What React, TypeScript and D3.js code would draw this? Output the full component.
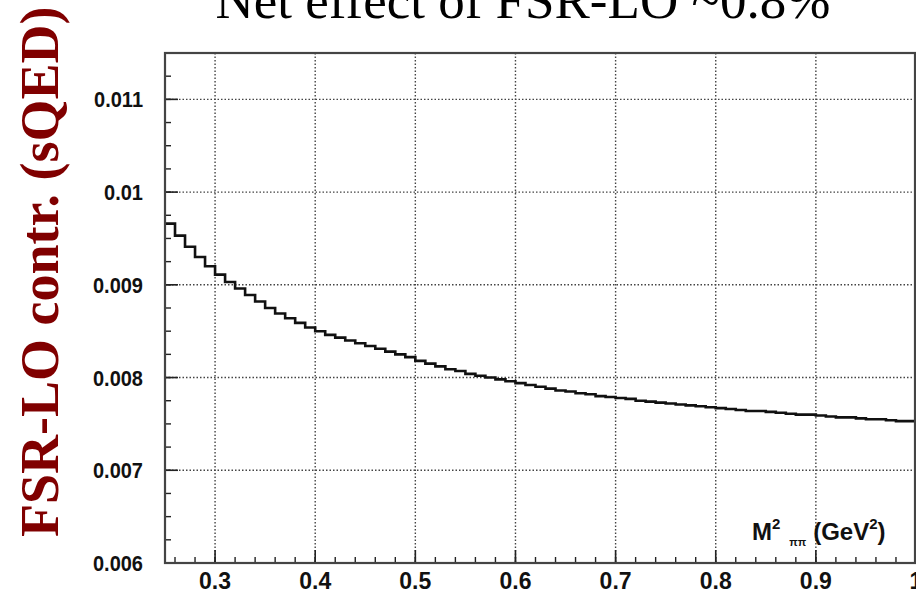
import React from "react";
import * as d3 from "d3";

const binStart = 0.25;
const binWidth = 0.01;
const binValues = [
  0.00966, 0.00953, 0.00941, 0.0093, 0.0092, 0.00911, 0.00903, 0.00896, 0.00889, 0.00882,
  0.00875, 0.00869, 0.00864, 0.00859, 0.00854, 0.0085, 0.00846, 0.00843, 0.0084, 0.00837,
  0.00834, 0.00831, 0.00828, 0.00825, 0.00822, 0.00818, 0.00815, 0.00812, 0.00809, 0.00807,
  0.00804, 0.00802, 0.008, 0.00798, 0.00796, 0.00794, 0.00792, 0.0079, 0.00788, 0.00786,
  0.00785, 0.00783, 0.00782, 0.0078, 0.00779, 0.00778, 0.00777, 0.00775, 0.00774, 0.00773,
  0.00772, 0.00771, 0.0077, 0.00769, 0.00768, 0.00767, 0.00766, 0.00765, 0.00764, 0.00764,
  0.00763, 0.00762, 0.00761, 0.0076, 0.0076, 0.00759, 0.00758, 0.00757, 0.00757, 0.00756,
  0.00755, 0.00755, 0.00754, 0.00753, 0.00753,
];
const xTickValues = [0.3, 0.4, 0.5, 0.6, 0.7, 0.8, 0.9, 1.0];
const xTickLabels = ["0.3", "0.4", "0.5", "0.6", "0.7", "0.8", "0.9", "1"];
const yTickValues = [0.006, 0.007, 0.008, 0.009, 0.01, 0.011];
const yTickLabels = ["0.006", "0.007", "0.008", "0.009", "0.01", "0.011"];
const titleText = "Net effect of FSR-LO ~0.8%";
const yTitleText = "FSR-LO contr. (sQED)";

const W = 916;
const H = 593;
const L = 165, R = 916, T = 53, B = 563;

export default function App() {
  const x = d3.scaleLinear().domain([0.25, 1.0]).range([L, R]);
  const y = d3.scaleLinear().domain([0.006, 0.0115]).range([B, T]);

  const pts: [number, number][] = binValues.map((v, i) => [binStart + i * binWidth, v]);
  pts.push([binStart + binValues.length * binWidth, binValues[binValues.length - 1]]);
  const line = d3
    .line<[number, number]>()
    .x((d) => x(d[0]))
    .y((d) => y(d[1]))
    .curve(d3.curveStepAfter);

  const xMinor = d3.range(0, 38).map((i) => 0.26 + i * 0.02).filter((v) => v < 1.0 - 1e-9);
  const yMinor = d3.range(0, 23).map((i) => 0.006 + i * 0.00025).filter((v) => v <= 0.0115 + 1e-9);

  const sans = "'Liberation Sans', Arial, Helvetica, sans-serif";
  const serif = "'Liberation Serif', 'Times New Roman', serif";

  return (
    <svg width={W} height={H} style={{ position: "absolute", left: 0, top: 0, background: "#fff" }}>
      <rect x={0} y={0} width={W} height={H} fill="#fff" />
      {/* grid */}
      {xTickValues.filter((v) => v < 1).map((v) => (
        <line key={"gx" + v} x1={x(v)} x2={x(v)} y1={T} y2={B} stroke="#444" strokeWidth={1.4} strokeDasharray="1.5,2" />
      ))}
      {yTickValues.filter((v) => v > 0.006).map((v) => (
        <line key={"gy" + v} x1={L} x2={R} y1={y(v)} y2={y(v)} stroke="#444" strokeWidth={1.4} strokeDasharray="1.5,2" />
      ))}
      {/* minor ticks */}
      {xMinor.map((v) => (
        <line key={"mx" + v} x1={x(v)} x2={x(v)} y1={B} y2={B - 6} stroke="#222" strokeWidth={1.4} />
      ))}
      {xTickValues.map((v) => (
        <line key={"Mx" + v} x1={x(v)} x2={x(v)} y1={B} y2={B - 13} stroke="#222" strokeWidth={1.6} />
      ))}
      {yMinor.map((v) => (
        <line key={"my" + v} x1={L} x2={L + 6} y1={y(v)} y2={y(v)} stroke="#222" strokeWidth={1.4} />
      ))}
      {yTickValues.map((v) => (
        <line key={"My" + v} x1={L} x2={L + 13} y1={y(v)} y2={y(v)} stroke="#222" strokeWidth={1.6} />
      ))}
      {/* histogram */}
      <path d={line(pts) || ""} fill="none" stroke="#111" strokeWidth={2.6} />
      {/* frame */}
      <rect x={L} y={T} width={R - 1 - L} height={B - T} fill="none" stroke="#444" strokeWidth={2.2} />
      {/* tick labels */}
      {yTickValues.map((v, i) => (
        <text key={"ly" + v} transform={`translate(143,${y(v) + 8}) scale(1,1.12)`} textAnchor="end" fontFamily={sans} fontWeight="bold" fontSize={20} fill="#111">
          {yTickLabels[i]}
        </text>
      ))}
      {xTickValues.map((v, i) => (
        <text key={"lx" + v} x={x(v)} y={589} textAnchor="middle" fontFamily={sans} fontWeight="bold" fontSize={23} fill="#111">
          {xTickLabels[i]}
        </text>
      ))}
      {/* x axis title */}
      <text x={752} y={540} fontFamily={sans} fontWeight="bold" fontSize={24} fill="#111">
        M
        <tspan fontSize={15} dy={-11}>2</tspan>
        <tspan fontSize={11} dx={9} dy={17}>ππ</tspan>
        <tspan fontSize={24} dx={7} dy={-6}>(GeV</tspan>
        <tspan fontSize={15} dy={-11}>2</tspan>
        <tspan fontSize={24} dy={11}>)</tspan>
      </text>
      {/* title */}
      <text x={523} y={18} textAnchor="middle" fontFamily={serif} fontSize={53} fill="#000">
        {titleText}
      </text>
      {/* y title */}
      <text
        transform={`translate(58,537) rotate(-90)`}
        fontFamily={serif}
        fontWeight="bold"
        fontSize={54}
        fill="#800000"
      >
        {yTitleText}
      </text>
    </svg>
  );
}
